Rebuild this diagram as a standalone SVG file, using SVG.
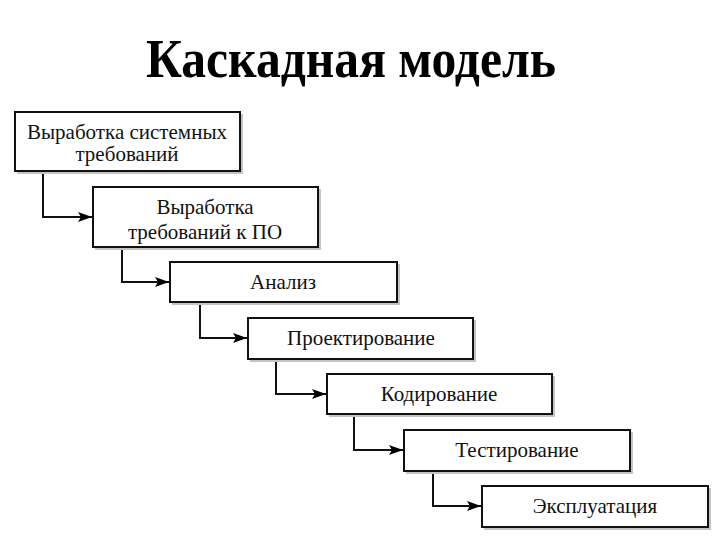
<svg xmlns="http://www.w3.org/2000/svg" width="720" height="540" viewBox="0 0 720 540">
<defs>
<marker id="arr" viewBox="0 0 14 10" refX="14" refY="5" markerWidth="14" markerHeight="10" markerUnits="userSpaceOnUse" orient="auto">
<path d="M0,0 L14,5 L0,10 L3,5 Z" fill="#000"/>
</marker>
</defs>
<style>
.box{fill:#fff;stroke:#111;stroke-width:2}
.sh{fill:#c4c4c4}
.t{font-family:"Liberation Serif","Times New Roman",serif;font-size:21px;fill:#111;text-anchor:middle}
.c{fill:none;stroke:#111;stroke-width:2}
.title{font-family:"Liberation Serif","DejaVu Serif",serif;font-weight:bold;font-size:54px;fill:#000;text-anchor:middle}
</style>
<rect width="720" height="540" fill="#fff"/>
<text class="title" x="351" y="77" textLength="410" lengthAdjust="spacingAndGlyphs">Каскадная модель</text>
<g id="connectors">
<path class="c" d="M43,171 V217 H92" marker-end="url(#arr)"/>
<path class="c" d="M122,247 V282 H169" marker-end="url(#arr)"/>
<path class="c" d="M200,302 V338 H247" marker-end="url(#arr)"/>
<path class="c" d="M276,359 V394 H326" marker-end="url(#arr)"/>
<path class="c" d="M354,414 V450 H403" marker-end="url(#arr)"/>
<path class="c" d="M433,471 V506 H481" marker-end="url(#arr)"/>
</g>
<g id="n1">
<rect class="sh" x="17" y="114" width="226" height="60"/>
<rect class="box" x="15" y="112" width="225" height="59"/>
<text class="t" x="127" y="139">Выработка системных</text>
<text class="t" x="127" y="161">требований</text>
</g>
<g id="n2">
<rect class="sh" x="95" y="189" width="226" height="61"/>
<rect class="box" x="93" y="187" width="225" height="60"/>
<text class="t" x="205" y="214">Выработка</text>
<text class="t" x="205" y="239">требований к ПО</text>
</g>
<g id="n3">
<rect class="sh" x="172" y="264" width="228" height="41"/>
<rect class="box" x="170" y="262" width="227" height="40"/>
<text class="t" x="283" y="289">Анализ</text>
</g>
<g id="n4">
<rect class="sh" x="250" y="320" width="226" height="42"/>
<rect class="box" x="248" y="318" width="225" height="41"/>
<text class="t" x="361" y="345">Проектирование</text>
</g>
<g id="n5">
<rect class="sh" x="329" y="376" width="226" height="41"/>
<rect class="box" x="327" y="374" width="225" height="40"/>
<text class="t" x="439" y="401">Кодирование</text>
</g>
<g id="n6">
<rect class="sh" x="406" y="432" width="227" height="42"/>
<rect class="box" x="404" y="430" width="226" height="41"/>
<text class="t" x="517" y="457">Тестирование</text>
</g>
<g id="n7">
<rect class="sh" x="484" y="488" width="227" height="42"/>
<rect class="box" x="482" y="486" width="226" height="41"/>
<text class="t" x="595" y="513">Эксплуатация</text>
</g>
</svg>
